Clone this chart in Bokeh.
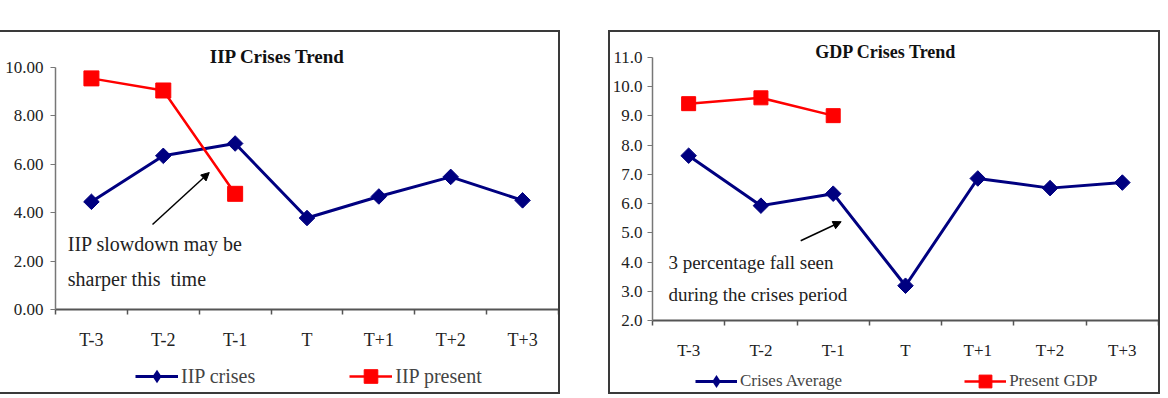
from bokeh.plotting import figure
from bokeh.models import (FixedTicker, NumeralTickFormatter, Label, Arrow, NormalHead,
                          Legend, LegendItem, Spacer, Range1d, LinearAxis)
from bokeh.layouts import row, column
from bokeh.embed import file_html
from bokeh.resources import INLINE
import math

# ---------------- data ----------------
categories = ["T-3", "T-2", "T-1", "T", "T+1", "T+2", "T+3"]
iip_crises = [4.45, 6.35, 6.86, 3.78, 4.67, 5.48, 4.51]
iip_present = [9.55, 9.05, 4.78]
gdp_crises = [7.64, 5.93, 6.34, 3.19, 6.86, 6.53, 6.72]
gdp_present = [9.42, 9.62, 9.01]
iip_yticks = [0, 2, 4, 6, 8, 10]
gdp_yticks = [2, 3, 4, 5, 6, 7, 8, 9, 10, 11]

FONT = "Liberation Serif"
BLUE = "#000080"
RED = "#FF0000"
AX = "#555555"

xs = [i + 0.5 for i in range(len(categories))]
bounds = list(range(len(categories) + 1))
NCAT = len(categories)


def base_fig(width, height, ymin, ymax, yticks, fmt, axis_px, bottom_px, top_px,
             tick_font, label_font_y, ystand):
    # frame covers whole canvas; axes are fixed inside it
    xpx = (width - axis_px) / NCAT
    ypx = (height - bottom_px - top_px) / (ymax - ymin)
    x0 = -axis_px / xpx
    y0 = ymin - bottom_px / ypx
    y1 = ymax + top_px / ypx
    p = figure(width=width, height=height, output_backend="svg", toolbar_location=None,
               x_range=Range1d(x0, NCAT), y_range=Range1d(y0, y1),
               x_axis_location=None, y_axis_location=None,
               min_border_left=0, min_border_right=0, min_border_top=0, min_border_bottom=0)
    p.outline_line_color = None
    p.grid.visible = False
    p.background_fill_color = "white"
    p.border_fill_color = "white"
    xa = LinearAxis(fixed_location=ymin, bounds=(0, NCAT))
    xa.ticker = FixedTicker(ticks=xs, minor_ticks=bounds)
    xa.major_label_overrides = {x: c for x, c in zip(xs, categories)}
    xa.major_tick_out = 0
    xa.major_tick_in = 0
    xa.minor_tick_out = 5
    xa.minor_tick_in = 0
    xa.axis_line_color = AX
    xa.axis_line_width = 2
    xa.minor_tick_line_color = AX
    xa.minor_tick_line_width = 1.5
    xa.major_label_text_font = FONT
    xa.major_label_text_font_size = tick_font
    xa.major_label_text_color = "#222222"
    xa.major_label_standoff = 15
    p.add_layout(xa, "below")
    ya = LinearAxis(fixed_location=0, bounds=(ymin, ymax))
    ya.ticker = FixedTicker(ticks=yticks)
    ya.formatter = NumeralTickFormatter(format=fmt)
    ya.major_tick_out = 5
    ya.major_tick_in = 0
    ya.minor_tick_line_color = None
    ya.axis_line_color = "#777777"
    ya.axis_line_width = 1.5
    ya.major_tick_line_color = "#777777"
    ya.major_label_text_font = FONT
    ya.major_label_text_font_size = label_font_y
    ya.major_label_text_color = "#222222"
    ya.major_label_standoff = ystand
    p.add_layout(ya, "left")
    return p


def lab(p, x, y, text, size, bold=False, align="left"):
    p.add_layout(Label(x=x, y=y, text=text, text_font=FONT, text_font_size=size,
                       text_font_style="bold" if bold else "normal", text_align=align,
                       text_baseline="middle", text_color="#111111" if bold else "#222222"))


def series(p, ys_crises, ys_present, sq_size):
    n = len(ys_present)
    lc = p.line(xs, ys_crises, line_color=BLUE, line_width=3)
    p.scatter(xs, ys_crises, marker="square", angle=math.pi / 4, size=11,
              fill_color=BLUE, line_color=BLUE)
    # zero-size diamonds: invisible on the plot, give the legend its diamond swatch
    dc = p.scatter(xs, ys_crises, marker="diamond", size=0, line_width=0,
                   fill_color=BLUE, line_color=BLUE)
    lp = p.line(xs[:n], ys_present, line_color=RED, line_width=2.5)
    sp = p.scatter(xs[:n], ys_present, marker="square", size=sq_size,
                   fill_color=RED, line_color=RED)
    return [lc, dc], [lp, sp]


# ---------------- left chart: IIP ----------------
# canvas: x 0..558, y 32..392 ; plot axes at x=55, y(0)=309, y(10)=67
p1 = base_fig(558, 360, 0, 10, iip_yticks, "0.00", 55, 83, 35, "18px", "17px", 7)
r_c1, r_p1 = series(p1, iip_crises, iip_present, 15)
lab(p1, 3.09, 10.46, "IIP Crises Trend", "19px", bold=True, align="center")
lab(p1, 0.17, 2.69, "IIP slowdown may be", "20px")
lab(p1, 0.17, 1.28, "sharper this\u00a0 time", "20px")
p1.add_layout(Arrow(end=NormalHead(size=8, fill_color="black", line_color="black"),
                    x_start=1.35, y_start=3.51, x_end=2.14, y_end=5.66,
                    line_color="black", line_width=1.5))
leg1 = Legend(items=[LegendItem(label="IIP crises", renderers=r_c1),
                     LegendItem(label="IIP present", renderers=r_p1)],
              orientation="horizontal", location=(135, -1), padding=0, margin=0,
              spacing=94, glyph_width=43, glyph_height=34, label_standoff=3,
              border_line_color=None, background_fill_alpha=0,
              label_text_font=FONT, label_text_font_size="20px")
p1.add_layout(leg1)
p1.styles = {"outline": "2px solid #3a3a3a"}

# ---------------- right chart: GDP ----------------
# canvas: x 610..1158, y 32..392 ; axes at x=652, y(2)=320, y(11)=57
p2 = base_fig(548, 360, 2, 11, gdp_yticks, "0.0", 42, 72, 25, "17px", "17px", 5)
r_c2, r_p2 = series(p2, gdp_crises, gdp_present, 14)
lab(p2, 3.23, 11.18, "GDP Crises Trend", "18px", bold=True, align="center")
lab(p2, 0.22, 3.98, "3 percentage fall seen", "19px")
lab(p2, 0.22, 2.88, "during the crises period", "19px")
p2.add_layout(Arrow(end=NormalHead(size=8, fill_color="black", line_color="black"),
                    x_start=2.05, y_start=4.73, x_end=2.61, y_end=5.38,
                    line_color="black", line_width=1.5))
leg2 = Legend(items=[LegendItem(label="Crises Average", renderers=r_c2),
                     LegendItem(label="Present GDP", renderers=r_p2)],
              orientation="horizontal", location=(85, -5), padding=0, margin=0,
              spacing=122, glyph_width=42, glyph_height=32, label_standoff=3,
              border_line_color=None, background_fill_alpha=0,
              label_text_font=FONT, label_text_font_size="17px")
p2.add_layout(leg2)
p2.styles = {"outline": "2px solid #3a3a3a"}

layout = column(Spacer(height=32), row(p1, Spacer(width=52), p2))
open("out.html", "w").write(file_html(layout, INLINE))
